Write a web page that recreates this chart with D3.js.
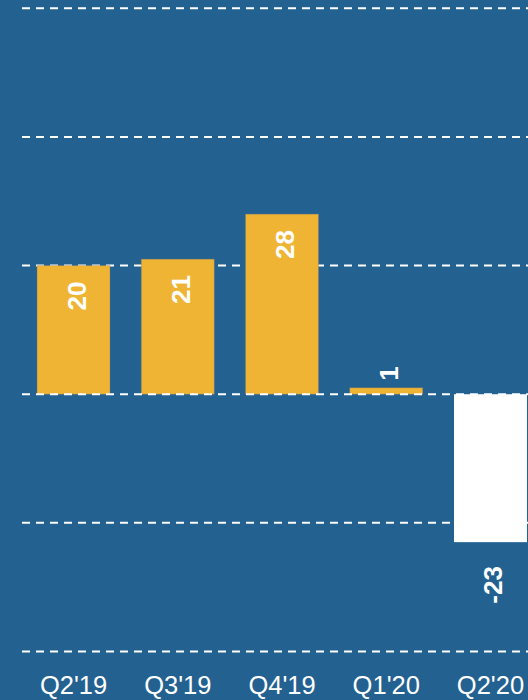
<!DOCTYPE html>
<html>
<head>
<meta charset="utf-8">
<script src="https://cdn.jsdelivr.net/npm/d3@7"></script>
<style>
  html, body { margin: 0; padding: 0; background: #236190; }
  svg { display: block; }
</style>
</head>
<body>
<script>
// Chart data
const quarters = ["Q2'19", "Q3'19", "Q4'19", "Q1'20", "Q2'20"];
const values = [20, 21, 28, 1, -23];
const gridTicks = [-40, -20, 0, 20, 40, 60];

const width = 528, height = 700;

const svg = d3.select('body').append('svg')
    .attr('width', width)
    .attr('height', height);

svg.append('rect')
    .attr('width', width)
    .attr('height', height)
    .attr('fill', '#236190');

// Scales
const x = d3.scaleBand()
    .domain(quarters)
    .range([21.4, 542.6])
    .paddingInner(0.3)
    .paddingOuter(0.15);

const y = d3.scaleLinear()
    .domain([-40, 60])
    .range([651.5, 8.3]);

// Dashed grid (under the bars)
svg.append('g')
    .attr('class', 'grid')
    .selectAll('line')
    .data(gridTicks.filter(d => d !== 0))
    .join('line')
    .attr('x1', 22)
    .attr('x2', width)
    .attr('y1', d => y(d))
    .attr('y2', d => y(d))
    .attr('stroke', '#fff')
    .attr('stroke-width', 2)
    .attr('stroke-dasharray', '8,6');

// Bars
const data = quarters.map((q, i) => ({ q, v: values[i] }));

svg.append('g')
    .selectAll('rect')
    .data(data)
    .join('rect')
    .attr('x', d => x(d.q))
    .attr('width', x.bandwidth())
    .attr('y', d => y(Math.max(0, d.v)))
    .attr('height', d => Math.abs(y(d.v) - y(0)))
    .attr('fill', d => d.v < 0 ? '#ffffff' : '#f0b435')
    .attr('stroke', d => d.v < 0 ? 'none' : 'rgba(120,120,120,0.35)')
    .attr('stroke-width', 1);

// Zero line on top of the bars
svg.append('line')
    .attr('x1', 22)
    .attr('x2', width)
    .attr('y1', y(0))
    .attr('y2', y(0))
    .attr('stroke', '#fff')
    .attr('stroke-width', 2)
    .attr('stroke-dasharray', '8,6');

// Value labels, rotated
svg.append('g')
    .selectAll('text')
    .data(data)
    .join('text')
    .attr('transform', d => {
        const cx = x(d.q) + x.bandwidth() / 2 + 12;
        let ty;
        if (d.v < 0) ty = y(d.v) + 24;
        else if (d.v <= 5) ty = y(d.v) - 7;
        else ty = y(d.v) + 16;
        return `translate(${cx},${ty}) rotate(-90)`;
    })
    .attr('text-anchor', d => (d.v >= 0 && d.v <= 5) ? 'start' : 'end')
    .attr('fill', '#fff')
    .style('font-family', 'Liberation Sans, Arial, sans-serif')
    .style('font-size', '26px')
    .style('font-weight', 'bold')
    .text(d => d.v);

// Category axis
const xAxis = svg.append('g')
    .attr('transform', `translate(0,${height})`)
    .call(d3.axisBottom(x).tickSize(0).tickPadding(0));

xAxis.select('.domain').remove();
xAxis.selectAll('text')
    .attr('y', -6)
    .attr('dy', 0)
    .attr('fill', '#fff')
    .style('font-family', 'Liberation Sans, Arial, sans-serif')
    .style('font-size', '25.5px');
</script>
</body>
</html>
